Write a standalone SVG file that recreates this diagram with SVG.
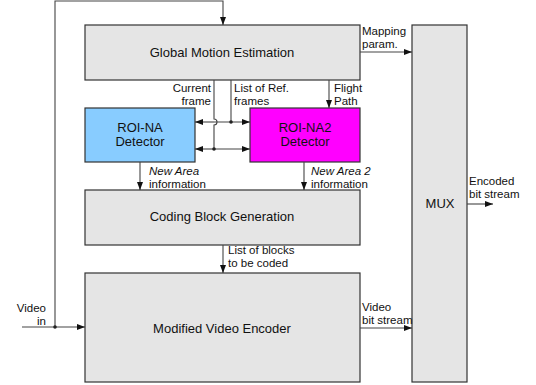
<svg xmlns="http://www.w3.org/2000/svg" width="536" height="385" viewBox="0 0 536 385">
<style>
.box{stroke:#333;stroke-width:1.2}
.g{fill:#e5e5e5}
.ln{fill:none;stroke:#444;stroke-width:1.1}
text{font-family:"Liberation Sans",Arial,sans-serif;font-size:13px;fill:#111}
.lb{font-size:11.5px}
.it{font-style:italic}
.dot{fill:#222}
</style>
<defs>
<marker id="ah" viewBox="0 0 8 6" refX="8" refY="3" markerWidth="8" markerHeight="6" markerUnits="userSpaceOnUse" orient="auto">
<path d="M0,0 L8,3 L0,6 z" fill="#111"/>
</marker>
</defs>
<g id="gme"><rect class="box g" x="85" y="25" width="275" height="55"/><text x="222" y="57" text-anchor="middle">Global Motion Estimation</text></g>
<g id="roina"><rect class="box" fill="#88ccff" x="85" y="108" width="110" height="54"/><text x="140" y="132" text-anchor="middle">ROI-NA</text><text x="140" y="146" text-anchor="middle">Detector</text></g>
<g id="roina2"><rect class="box" fill="#ff00ff" x="250" y="108" width="110" height="54"/><text x="305" y="132" text-anchor="middle">ROI-NA2</text><text x="305" y="146" text-anchor="middle">Detector</text></g>
<g id="cbg"><rect class="box g" x="85" y="190" width="275" height="55"/><text x="222" y="221" text-anchor="middle">Coding Block Generation</text></g>
<g id="enc"><rect class="box g" x="85" y="273" width="275" height="109"/><text x="222" y="333" text-anchor="middle">Modified Video Encoder</text></g>
<g id="mux"><rect class="box g" x="412" y="25" width="55" height="357"/><text x="440" y="208" text-anchor="middle">MUX</text></g>
<g id="connectors">
<path class="ln" d="M22,327 H85" marker-end="url(#ah)"/>
<path class="ln" d="M55,327 V1 H223 V25" marker-end="url(#ah)"/>
<circle class="dot" cx="55" cy="327" r="1.8"/>
<path class="ln" d="M360,52 H412" marker-end="url(#ah)"/>
<path class="ln" d="M214,80 V119 A3,3 0 0 1 214,125 V149"/>
<path class="ln" d="M231,80 V122"/>
<path class="ln" d="M214,122 H195" marker-end="url(#ah)"/>
<path class="ln" d="M214,122 H250" marker-end="url(#ah)"/>
<path class="ln" d="M214,149 H195" marker-end="url(#ah)"/>
<path class="ln" d="M214,149 H250" marker-end="url(#ah)"/>
<circle class="dot" cx="231" cy="122" r="1.8"/>
<circle class="dot" cx="214" cy="149" r="1.8"/>
<path class="ln" d="M329,80 V108" marker-end="url(#ah)"/>
<path class="ln" d="M140,162 V190" marker-end="url(#ah)"/>
<path class="ln" d="M304,162 V190" marker-end="url(#ah)"/>
<path class="ln" d="M223,245 V273" marker-end="url(#ah)"/>
<path class="ln" d="M360,328 H412" marker-end="url(#ah)"/>
<path class="ln" d="M467,204 H493" marker-end="url(#ah)"/>
</g>
<g id="labels">
<text class="lb" x="211" y="92" text-anchor="end">Current</text>
<text class="lb" x="211" y="105" text-anchor="end">frame</text>
<text class="lb" x="234" y="92">List of Ref.</text>
<text class="lb" x="234" y="105">frames</text>
<text class="lb" x="334" y="92">Flight</text>
<text class="lb" x="334" y="105">Path</text>
<text class="lb" x="362" y="35">Mapping</text>
<text class="lb" x="362" y="48">param.</text>
<text class="lb it" x="149" y="175">New Area</text>
<text class="lb" x="149" y="188">information</text>
<text class="lb it" x="311" y="175">New Area 2</text>
<text class="lb" x="311" y="188">information</text>
<text class="lb" x="228" y="254">List of blocks</text>
<text class="lb" x="228" y="267">to be coded</text>
<text class="lb" x="46" y="312" text-anchor="end">Video</text>
<text class="lb" x="46" y="325" text-anchor="end">in</text>
<text class="lb" x="362" y="311">Video</text>
<text class="lb" x="362" y="324">bit stream</text>
<text class="lb" x="469" y="185">Encoded</text>
<text class="lb" x="469" y="198">bit stream</text>
</g>
</svg>
